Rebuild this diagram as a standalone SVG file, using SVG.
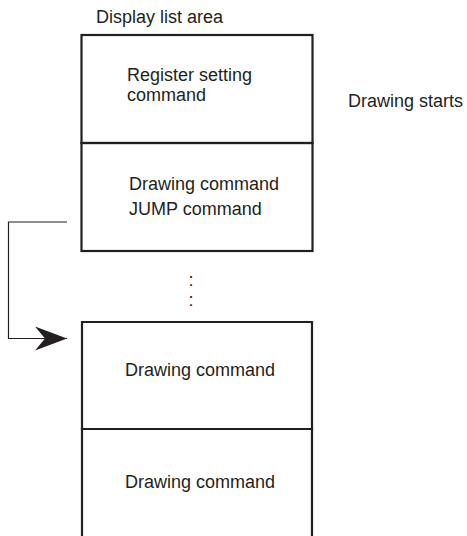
<svg xmlns="http://www.w3.org/2000/svg" width="467" height="536" viewBox="0 0 467 536">
<style>
  .t { font-family: "Liberation Sans", Arial, Helvetica, sans-serif; font-size: 18px; fill: #231f20; }
  .box { fill: none; stroke: #231f20; stroke-width: 2.2; }
  .conn { fill: none; stroke: #231f20; stroke-width: 1.2; }
</style>
<defs>
  <marker id="arrow" markerUnits="userSpaceOnUse" viewBox="0 0 32 24" refX="32" refY="12" markerWidth="32" markerHeight="24" orient="auto">
    <path d="M0,0 L32,12 L0,24 L10,12 Z" fill="#231f20"/>
  </marker>
</defs>
<rect width="467" height="536" fill="#ffffff"/>
<text class="t" x="96" y="23">Display list area</text>
<g id="register-setting">
  <rect class="box" x="81.5" y="35" width="231" height="108"/>
  <text class="t" x="127" y="81">Register setting</text>
  <text class="t" x="127" y="101">command</text>
</g>
<g id="drawing-jump">
  <rect class="box" x="81.5" y="143" width="231" height="108"/>
  <text class="t" x="129" y="190">Drawing command</text>
  <text class="t" x="129" y="215">JUMP command</text>
</g>
<text class="t" x="348" y="107">Drawing starts</text>
<text class="t" x="191" y="286" text-anchor="middle">:</text>
<text class="t" x="191" y="306" text-anchor="middle">:</text>
<g id="drawing-command-1">
  <path class="box" d="M82,429 V322 H312 V429 Z"/>
  <text class="t" x="125" y="376">Drawing command</text>
</g>
<g id="drawing-command-2">
  <path class="box" d="M82,537 V429 H312 V537"/>
  <text class="t" x="125" y="488">Drawing command</text>
</g>
<g id="connectors">
  <path class="conn" d="M67,222 H8.5 V338.5 H67" marker-end="url(#arrow)"/>
</g>
</svg>
